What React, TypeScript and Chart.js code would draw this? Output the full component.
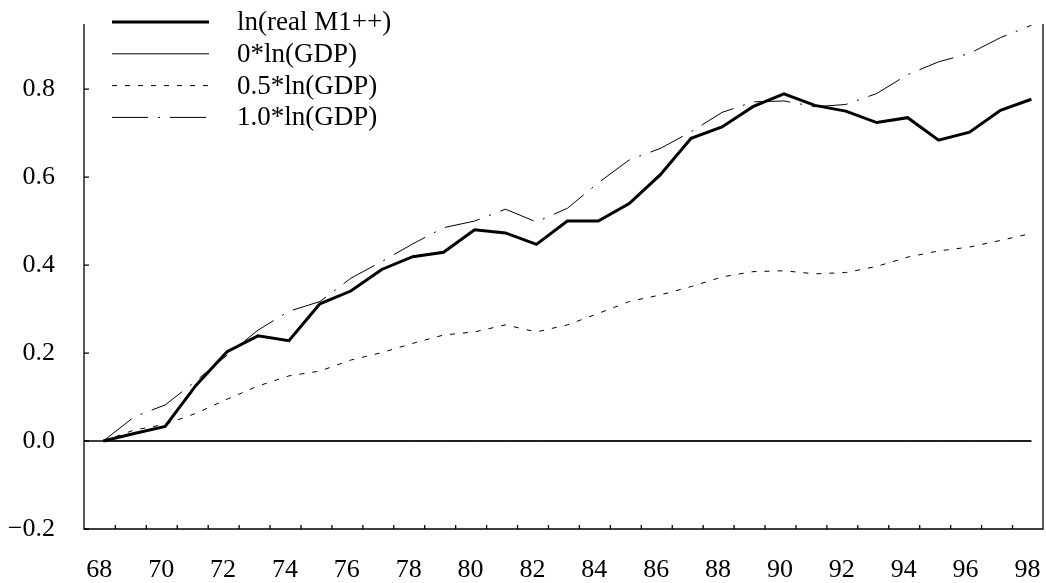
import React, { useEffect, useRef } from "react";
import { Chart, registerables } from "chart.js";

Chart.register(...registerables);

const years = [68, 69, 70, 71, 72, 73, 74, 75, 76, 77, 78, 79, 80, 81, 82, 83, 84, 85, 86, 87, 88, 89, 90, 91, 92, 93, 94, 95, 96, 97, 98];
const realM1 = [0, 0.017, 0.033, 0.127, 0.203, 0.239, 0.228, 0.312, 0.341, 0.39, 0.419, 0.429, 0.48, 0.473, 0.447, 0.5, 0.5, 0.54, 0.605, 0.688, 0.714, 0.76, 0.789, 0.763, 0.75, 0.724, 0.735, 0.684, 0.702, 0.752, 0.777];
const zeroGdp = [0, 0, 0, 0, 0, 0, 0, 0, 0, 0, 0, 0, 0, 0, 0, 0, 0, 0, 0, 0, 0, 0, 0, 0, 0, 0, 0, 0, 0, 0, 0];
const halfGdp = [0, 0.025, 0.038, 0.063, 0.095, 0.125, 0.148, 0.159, 0.184, 0.201, 0.222, 0.241, 0.248, 0.264, 0.248, 0.264, 0.29, 0.317, 0.332, 0.351, 0.373, 0.385, 0.387, 0.38, 0.383, 0.397, 0.418, 0.432, 0.441, 0.456, 0.472];
const fullGdp = [0, 0.055, 0.082, 0.137, 0.195, 0.252, 0.295, 0.317, 0.37, 0.408, 0.448, 0.485, 0.5, 0.527, 0.498, 0.529, 0.587, 0.639, 0.665, 0.703, 0.747, 0.771, 0.773, 0.76, 0.765, 0.79, 0.833, 0.862, 0.881, 0.917, 0.945];
const seriesLabels = ["ln(real M1++)", "0*ln(GDP)", "0.5*ln(GDP)", "1.0*ln(GDP)"];
const xTickValues = [68, 70, 72, 74, 76, 78, 80, 82, 84, 86, 88, 90, 92, 94, 96, 98];
const xTickLabels = ["68", "70", "72", "74", "76", "78", "80", "82", "84", "86", "88", "90", "92", "94", "96", "98"];
const yTickValues = [-0.2, 0, 0.2, 0.4, 0.6, 0.8];
const yTickLabels = ["\u22120.2", "0.0", "0.2", "0.4", "0.6", "0.8"];

const FONT = '"Liberation Serif", "Times New Roman", serif';
const AXIS_FONT_SIZE = 26;
const LEGEND_FONT_SIZE = 27;

export default function App() {
  const ref = useRef<HTMLCanvasElement>(null);

  useEffect(() => {
    if (!ref.current) return;

    const framePlugin = {
      id: "frame",
      beforeDatasetsDraw(chart: any) {
        const { ctx, chartArea: a, scales } = chart;
        const x = scales.x;
        const y = scales.y;
        ctx.save();
        ctx.strokeStyle = "#000";
        ctx.lineWidth = 1.3;
        ctx.setLineDash([]);
        ctx.beginPath();
        const y0 = y.getPixelForValue(0);
        ctx.moveTo(a.left, y0);
        ctx.lineTo(x.getPixelForValue(years[years.length - 1]), y0);
        ctx.stroke();
        ctx.restore();
      },
      afterDraw(chart: any) {
        const { ctx, chartArea: a, scales, data } = chart;
        const x = scales.x;
        const y = scales.y;
        ctx.save();
        ctx.strokeStyle = "#000";
        ctx.lineWidth = 1.3;
        ctx.setLineDash([]);
        ctx.beginPath();
        ctx.moveTo(a.left, a.top);
        ctx.lineTo(a.left, a.bottom);
        ctx.lineTo(a.right, a.bottom);
        ctx.lineTo(a.right, a.top);
        ctx.stroke();
        ctx.beginPath();
        yTickValues.forEach((v) => {
          const py = y.getPixelForValue(v);
          ctx.moveTo(a.left, py);
          ctx.lineTo(a.left + 5, py);
        });
        years.slice(0, -1).forEach((yr) => {
          const px = x.getPixelForValue(yr + 0.39);
          ctx.moveTo(px, a.bottom);
          ctx.lineTo(px, a.bottom - 4);
        });
        ctx.stroke();

        // legend
        data.datasets.forEach((ds: any, i: number) => {
          const ly = 22 + i * 31.8;
          ctx.beginPath();
          ctx.lineWidth = ds.borderWidth;
          ctx.setLineDash(ds.borderDash || []);
          ctx.strokeStyle = ds.borderColor;
          ctx.moveTo(112, ly);
          ctx.lineTo(209, ly);
          ctx.stroke();
          ctx.setLineDash([]);
          ctx.fillStyle = "#000";
          ctx.font = `${LEGEND_FONT_SIZE}px ${FONT}`;
          ctx.textAlign = "left";
          ctx.textBaseline = "middle";
          ctx.fillText(ds.label, 237, ly + 1);
        });
        ctx.restore();
      },
    };

    const mk = (vals: number[]) => years.map((yr, i) => ({ x: yr, y: vals[i] }));

    const chart = new Chart(ref.current, {
      type: "line",
      data: {
        datasets: [
          { label: seriesLabels[0], data: mk(realM1), borderColor: "#000", borderWidth: 3, pointRadius: 0, tension: 0, fill: false },
          { label: seriesLabels[1], data: mk(zeroGdp), borderColor: "#000", borderWidth: 1, pointRadius: 0, tension: 0, fill: false },
          { label: seriesLabels[2], data: mk(halfGdp), borderColor: "#000", borderWidth: 1, borderDash: [5, 8], pointRadius: 0, tension: 0, fill: false },
          { label: seriesLabels[3], data: mk(fullGdp), borderColor: "#000", borderWidth: 1, borderDash: [36, 10, 2, 10], pointRadius: 0, tension: 0, fill: false },
        ],
      },
      options: {
        responsive: false,
        animation: false,
        layout: { padding: { top: 24, right: 3, left: 0, bottom: 0 } },
        plugins: { legend: { display: false }, tooltip: { enabled: false } },
        scales: {
          x: {
            type: "linear",
            min: 67.376,
            max: 98.375,
            grid: { display: true, drawOnChartArea: false, drawTicks: true, tickLength: 26, tickColor: "rgba(0,0,0,0)" },
            border: { display: false },
            afterBuildTicks: (s: any) => {
              s.ticks = xTickValues.map((v) => ({ value: v }));
            },
            afterFit: (s: any) => {
              s.height = 54;
            },
            ticks: {
              autoSkip: false,
              maxRotation: 0,
              padding: 0,
              labelOffset: -4,
              color: "#000",
              font: { family: FONT, size: AXIS_FONT_SIZE },
              callback: (v: any) => {
                const i = xTickValues.indexOf(Number(v));
                return i >= 0 ? xTickLabels[i] : "";
              },
            },
          },
          y: {
            type: "linear",
            min: -0.2,
            max: 0.948,
            grid: { display: true, drawOnChartArea: false, drawTicks: true, tickLength: 29, tickColor: "rgba(0,0,0,0)" },
            border: { display: false },
            afterBuildTicks: (s: any) => {
              s.ticks = yTickValues.map((v) => ({ value: v }));
            },
            afterFit: (s: any) => {
              s.width = 84;
            },
            ticks: {
              padding: 0,
              color: "#000",
              font: { family: FONT, size: AXIS_FONT_SIZE },
              callback: (v: any) => {
                const i = yTickValues.findIndex((t) => Math.abs(t - Number(v)) < 1e-9);
                return i >= 0 ? yTickLabels[i] : "";
              },
            },
          },
        },
      },
      plugins: [framePlugin],
    });

    return () => chart.destroy();
  }, []);

  return (
    <div style={{ position: "fixed", left: 0, top: 0, width: 1046, height: 583, background: "#fff" }}>
      <canvas ref={ref} width={1046} height={583} style={{ display: "block" }} />
    </div>
  );
}
